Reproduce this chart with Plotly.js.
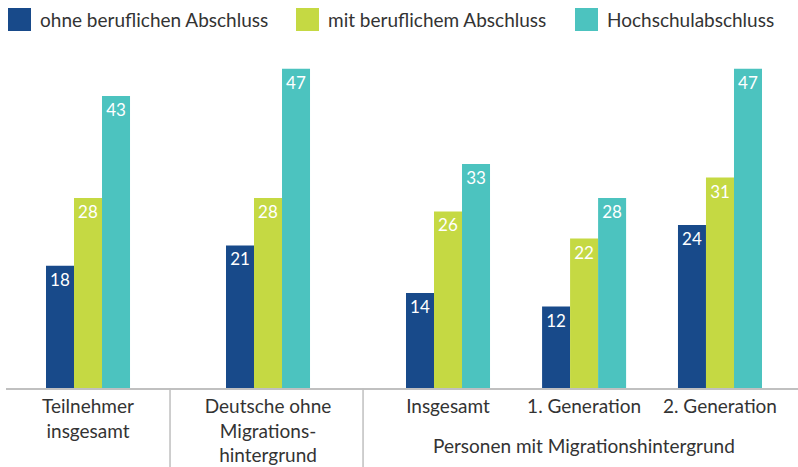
<!DOCTYPE html>
<html><head><meta charset="utf-8">
<script src="https://cdn.plot.ly/plotly-3.0.1.min.js"></script>
<style>html,body{margin:0;padding:0;background:#fff}#chart{width:798px;height:467px}</style>
</head><body><div id="chart"></div>
<script>
// ---- data ----
const groupLabels = ["Teilnehmer<br>insgesamt", "Deutsche ohne<br>Migrations-<br>hintergrund", "Insgesamt", "1. Generation", "2. Generation"];
const groupPositions = [0, 1, 2, 2.756, 3.511];
const superLabel = "Personen mit Migrationshintergrund";
const seriesNames = ["ohne beruflichen Abschluss", "mit beruflichem Abschluss", "Hochschulabschluss"];
const ohneValues = [18, 21, 14, 12, 24];
const mitValues = [28, 28, 26, 22, 31];
const hochValues = [43, 47, 33, 28, 47];
const seriesColors = ["#184a8a", "#c5d943", "#4cc3bf"];

// ---- layout constants ----
const W = 798, H = 467, ML = 6, MR = 0, MT = 60, MB = 79;
const PW = W - ML - MR, PH = H - MT - MB;
const pxX = px => (px - ML) / PW;
const pxY = py => (H - MB - py) / PH;
const FONT = "Lato, 'Source Sans Pro', sans-serif";
const barW = 0.1556;
const offsets = [-1.5 * barW, -0.5 * barW, 0.5 * barW];
const allValues = [ohneValues, mitValues, hochValues];

const traces = allValues.map((vals, i) => ({
  type: "bar",
  x: groupPositions,
  y: vals,
  name: seriesNames[i],
  width: barW,
  offset: offsets[i],
  marker: {color: seriesColors[i], line: {width: 0}},
  text: vals.map(String),
  textposition: "inside",
  insidetextanchor: "end",
  textangle: 0,
  textfont: {color: "#ffffff", size: 17, family: FONT},
  hoverinfo: "skip",
  showlegend: false
}));

const legendX = [8, 296, 575];
const shapes = [];
const annotations = [];
seriesNames.forEach((n, i) => {
  shapes.push({type: "rect", xref: "paper", yref: "paper",
    x0: pxX(legendX[i]), x1: pxX(legendX[i] + 23), y0: pxY(31), y1: pxY(8),
    fillcolor: seriesColors[i], line: {width: 0}});
  annotations.push({xref: "paper", yref: "paper", x: pxX(legendX[i] + 30), y: pxY(19.5),
    xanchor: "left", yanchor: "middle", text: n, showarrow: false,
    font: {size: 19, color: "#333333", family: FONT}});
});
// group separators
[0.4556, 1.528].forEach(xv => {
  shapes.push({type: "line", xref: "x", yref: "paper", x0: xv, x1: xv,
    y0: 0, y1: pxY(467), line: {color: "#bfbfbf", width: 1.5}});
});
annotations.push({xref: "x", yref: "paper", x: groupPositions[3], y: pxY(445),
  xanchor: "center", yanchor: "middle", text: superLabel, showarrow: false,
  font: {size: 19, color: "#333333", family: FONT}});

const layout = {
  width: W, height: H,
  margin: {l: ML, r: MR, t: MT, b: MB, pad: 0},
  paper_bgcolor: "#ffffff", plot_bgcolor: "#ffffff",
  barmode: "overlay",
  showlegend: false,
  font: {family: FONT, color: "#333333"},
  xaxis: {
    range: [-0.4556, -0.4556 + PW / 180],
    tickmode: "array", tickvals: groupPositions, ticktext: groupLabels,
    showgrid: false, zeroline: false, showline: true, linecolor: "#c0c0c0", linewidth: 2,
    ticks: "", tickfont: {size: 19, color: "#333333", family: FONT}, fixedrange: true
  },
  yaxis: {
    range: [0, PH / 6.79], visible: false, showgrid: false, zeroline: false, fixedrange: true
  },
  shapes: shapes,
  annotations: annotations
};
Plotly.newPlot("chart", traces, layout, {displayModeBar: false, staticPlot: true});
</script></body></html>
